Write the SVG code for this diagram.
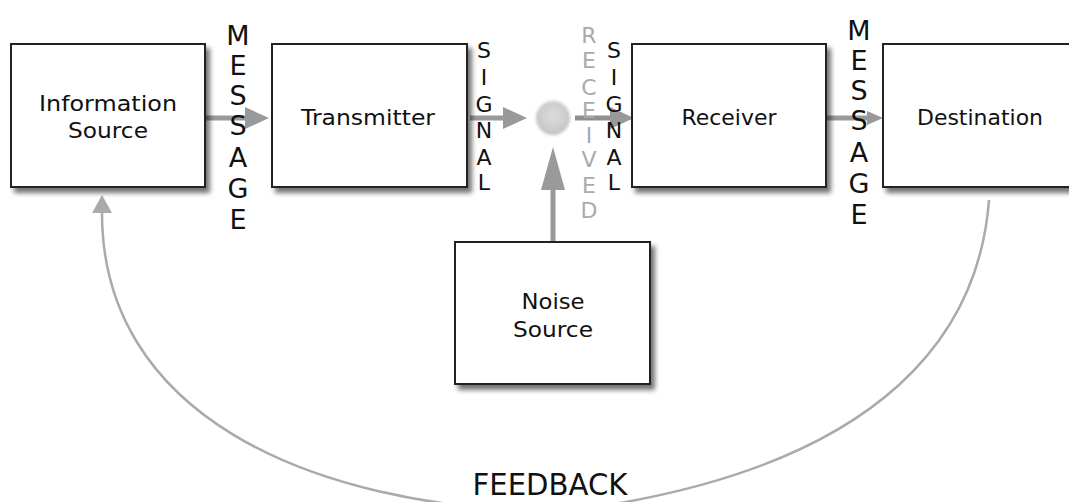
<svg xmlns="http://www.w3.org/2000/svg" width="1069" height="502" viewBox="0 0 1069 502">
  <defs>
    <filter id="shadow" x="-10%" y="-10%" width="130%" height="130%">
      <feDropShadow dx="4" dy="5" stdDeviation="2.5" flood-color="#000" flood-opacity="0.55"/>
    </filter>
    <filter id="soft" x="-50%" y="-50%" width="200%" height="200%">
      <feGaussianBlur stdDeviation="1.8"/>
    </filter>
    <radialGradient id="ball" cx="50%" cy="45%" r="55%">
      <stop offset="0" stop-color="#dcdcdc"/>
      <stop offset="0.7" stop-color="#cdcdcd"/>
      <stop offset="1" stop-color="#bdbdbd"/>
    </radialGradient>
    <marker id="headL" markerUnits="userSpaceOnUse" viewBox="0 0 24 22" markerWidth="24" markerHeight="22" refX="0" refY="11" orient="auto">
      <path d="M0,0 L24,11 L0,22 z" fill="#999"/>
    </marker>
    <marker id="headS" markerUnits="userSpaceOnUse" viewBox="0 0 16 14" markerWidth="16" markerHeight="14" refX="0" refY="7" orient="auto">
      <path d="M0,0 L16,7 L0,14 z" fill="#999"/>
    </marker>
    <marker id="headN" markerUnits="userSpaceOnUse" viewBox="0 0 43 24" markerWidth="43" markerHeight="24" refX="0" refY="12" orient="auto">
      <path d="M0,0 L43,12 L0,24 z" fill="#9a9a9a"/>
    </marker>
    <marker id="headF" markerUnits="userSpaceOnUse" viewBox="0 0 18 20" markerWidth="18" markerHeight="20" refX="0" refY="10" orient="auto">
      <path d="M0,0 L18,10 L0,20 z" fill="#aaa"/>
    </marker>
  </defs>
  <style>
    .box { fill: #fff; stroke: #222; stroke-width: 2; filter: url(#shadow); }
    .lbl { font-family: "DejaVu Sans", "Noto Sans", sans-serif; font-size: 22px; fill: #111; text-anchor: middle; }
    .vert { font-family: "DejaVu Sans", "Noto Sans", sans-serif; fill: #111; text-anchor: middle; }
    .msg { font-size: 27px; }
    .sig { font-size: 22px; }
    .rcv { font-size: 22px; fill: #aaa; }
    .fb { font-family: "DejaVu Sans", "Noto Sans", sans-serif; font-size: 30px; fill: #111; text-anchor: middle; }
    .arrow { stroke: #999; stroke-width: 5; fill: none; }
    .feedback { stroke: #aaa; stroke-width: 2.5; fill: none; }
  </style>

  <g id="connectors">
    <path class="feedback" d="M989,200 C980,320 900,470 560,512 C300,508 102,410 102,213" marker-end="url(#headF)"/>
    <line class="arrow" x1="206" y1="118" x2="245" y2="118" marker-end="url(#headL)"/>
    <line class="arrow" x1="470" y1="118" x2="503" y2="118" marker-end="url(#headL)"/>
    <line class="arrow" x1="575" y1="118" x2="610" y2="118" marker-end="url(#headL)" style="stroke:#8f8f8f"/>
    <line class="arrow" x1="827" y1="118" x2="867" y2="118" marker-end="url(#headS)"/>
    <line class="arrow" x1="553" y1="242" x2="553" y2="190" marker-end="url(#headN)"/>
  </g>

  <g id="junction">
    <circle cx="553" cy="118" r="17" fill="url(#ball)" filter="url(#soft)"/>
  </g>

  <g id="information-source">
    <rect class="box" x="11" y="44" width="194" height="143"/>
    <text class="lbl" x="108" y="111" textLength="138" lengthAdjust="spacingAndGlyphs">Information</text>
    <text class="lbl" x="108" y="138" textLength="80" lengthAdjust="spacingAndGlyphs">Source</text>
  </g>

  <g id="transmitter">
    <rect class="box" x="272" y="44" width="195" height="143"/>
    <text class="lbl" x="368" y="125" textLength="134" lengthAdjust="spacingAndGlyphs">Transmitter</text>
  </g>

  <g id="receiver">
    <rect class="box" x="632" y="44" width="194" height="143"/>
    <text class="lbl" x="729" y="125" textLength="95" lengthAdjust="spacingAndGlyphs">Receiver</text>
  </g>

  <g id="destination">
    <rect class="box" x="883" y="44" width="194" height="143"/>
    <text class="lbl" x="980" y="125" textLength="126" lengthAdjust="spacingAndGlyphs">Destination</text>
  </g>

  <g id="noise-source">
    <rect class="box" x="455" y="242" width="195" height="142"/>
    <text class="lbl" x="553" y="309" textLength="63" lengthAdjust="spacingAndGlyphs">Noise</text>
    <text class="lbl" x="553" y="337" textLength="80" lengthAdjust="spacingAndGlyphs">Source</text>
  </g>

  <g id="labels">
    <text class="vert msg">
      <tspan x="238" y="45">M</tspan><tspan x="238" y="75">E</tspan><tspan x="238" y="105">S</tspan><tspan x="238" y="135">S</tspan><tspan x="238" y="167">A</tspan><tspan x="238" y="198">G</tspan><tspan x="238" y="229">E</tspan>
    </text>
    <text class="vert sig">
      <tspan x="484" y="58">S</tspan><tspan x="484" y="85">I</tspan><tspan x="484" y="112">G</tspan><tspan x="484" y="138">N</tspan><tspan x="484" y="165">A</tspan><tspan x="484" y="190">L</tspan>
    </text>
    <text class="vert rcv">
      <tspan x="589" y="43">R</tspan><tspan x="589" y="68">E</tspan><tspan x="589" y="95">C</tspan><tspan x="589" y="118">E</tspan><tspan x="589" y="143">I</tspan><tspan x="589" y="167">V</tspan><tspan x="589" y="193">E</tspan><tspan x="589" y="218">D</tspan>
    </text>
    <text class="vert sig">
      <tspan x="614" y="58">S</tspan><tspan x="614" y="85">I</tspan><tspan x="614" y="112">G</tspan><tspan x="614" y="138">N</tspan><tspan x="614" y="165">A</tspan><tspan x="614" y="190">L</tspan>
    </text>
    <text class="vert msg">
      <tspan x="859" y="40">M</tspan><tspan x="859" y="70">E</tspan><tspan x="859" y="100">S</tspan><tspan x="859" y="130">S</tspan><tspan x="859" y="162">A</tspan><tspan x="859" y="193">G</tspan><tspan x="859" y="224">E</tspan>
    </text>
    <text class="fb" x="550" y="495" textLength="155" lengthAdjust="spacingAndGlyphs">FEEDBACK</text>
  </g>
</svg>
